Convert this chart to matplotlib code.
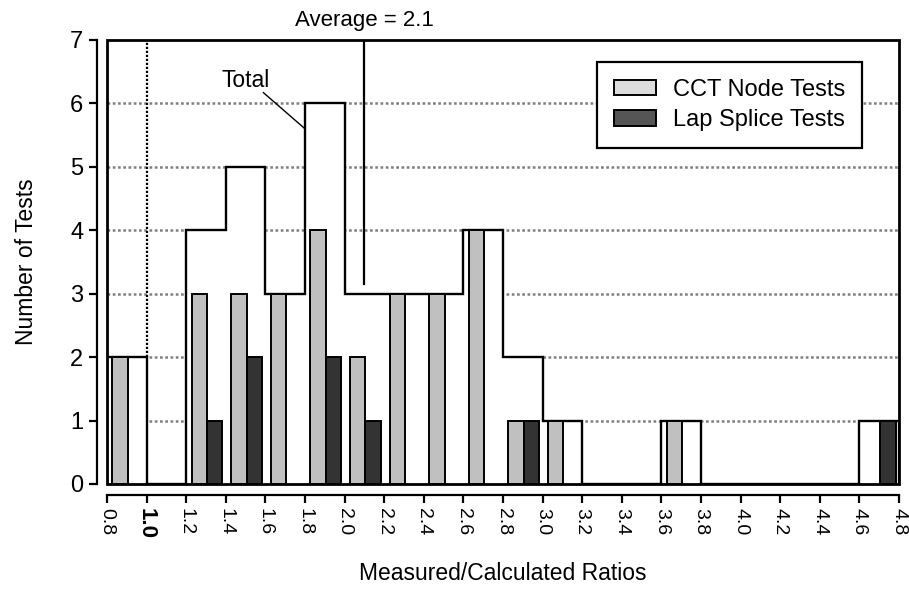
import matplotlib
matplotlib.use('Agg')
import matplotlib.pyplot as plt
from matplotlib.patches import Patch, Rectangle
import numpy as np

plt.rcParams['font.family'] = ['Liberation Sans', 'DejaVu Sans']

# bin edges (width 0.2) and counts
bin_edges = [0.8, 1.0, 1.2, 1.4, 1.6, 1.8, 2.0, 2.2, 2.4, 2.6, 2.8,
             3.0, 3.2, 3.4, 3.6, 3.8, 4.0, 4.2, 4.4, 4.6, 4.8]
total = [2, 0, 4, 5, 3, 6, 3, 3, 3, 4, 2, 1, 0, 0, 1, 0, 0, 0, 0, 1]
cct_node = [2, 0, 3, 3, 3, 4, 2, 3, 3, 4, 1, 1, 0, 0, 1, 0, 0, 0, 0, 0]
lap_splice = [0, 0, 1, 2, 0, 2, 1, 0, 0, 0, 1, 0, 0, 0, 0, 0, 0, 0, 0, 1]
average = 2.1
x_ticks = [0.8, 1.0, 1.2, 1.4, 1.6, 1.8, 2.0, 2.2, 2.4, 2.6, 2.8,
           3.0, 3.2, 3.4, 3.6, 3.8, 4.0, 4.2, 4.4, 4.6, 4.8]
y_ticks = [0, 1, 2, 3, 4, 5, 6, 7]

fig = plt.figure(figsize=(9.09, 5.90), dpi=100)
ax = fig.add_axes([107 / 909, 106 / 590, 792 / 909, 444 / 590])

# gridlines behind everything
for y in y_ticks[1:-1]:
    ax.axhline(y, color='#808080', lw=1.8, ls=(0, (1.1, 1.0)), zorder=0)

# total outline (white filled step)
ax.stairs(total, bin_edges, fill=True, facecolor='white', edgecolor='black',
          linewidth=1.7, zorder=2)

lefts = np.array(bin_edges[:-1])
cct = np.array(cct_node)
lap = np.array(lap_splice)
m1 = cct > 0
m2 = lap > 0
ax.bar(lefts[m1] + 0.027, cct[m1], width=0.078, align='edge',
       color='#c0c0c0', edgecolor='black', linewidth=1.4, zorder=3)
ax.bar(lefts[m2] + 0.105, lap[m2], width=0.078, align='edge',
       color='#333333', edgecolor='black', linewidth=1.4, zorder=3)

# reference line at 1.0
ax.plot([1.0, 1.0], [2.0, 7.0], color='black', lw=1.6, ls=(0, (1, 0.8)), zorder=4)

# average line
ax.plot([average, average], [3.15, 7.0], color='black', lw=1.6, zorder=4)
ax.text(average, 7.31, f"Average = {average}", ha='center', va='center',
        fontsize=16)

# total annotation
ax.text(1.5, 6.36, "Total", ha='center', va='center', fontsize=16.5)
ax.plot([1.59, 1.80], [6.17, 5.6], color='black', lw=1.0, zorder=4)

ax.set_xlim(0.8, 4.8)
ax.set_ylim(0, 7)

# frame around plotting area
ax.add_patch(Rectangle((0, 0), 1, 1, transform=ax.transAxes, fill=False,
                       edgecolor='black', linewidth=2.0, zorder=5, clip_on=False))

for s in ['top', 'right']:
    ax.spines[s].set_visible(False)
ax.spines['left'].set_position(('outward', 7))
ax.spines['bottom'].set_position(('outward', 8))
ax.spines['left'].set_linewidth(1.6)
ax.spines['bottom'].set_linewidth(1.6)

ax.set_yticks(y_ticks)
ax.set_yticklabels([str(v) for v in y_ticks], fontsize=17)
ax.set_xticks(x_ticks)
ax.set_xticklabels([f"{v:.1f}" for v in x_ticks], rotation=-90, fontsize=14)
for lbl in ax.get_xticklabels():
    if lbl.get_text() == "1.0":
        lbl.set_fontweight('bold')
        lbl.set_fontsize(16)
ax.tick_params(axis='both', direction='out', length=6, width=1.6, pad=4)
ax.tick_params(axis='x', pad=3)

ax.set_xlabel("Measured/Calculated Ratios", fontsize=16.5)
ax.set_ylabel("Number of Tests", fontsize=16.5)
ax.xaxis.set_label_coords(0.5, -89 / 444)
ax.xaxis.label.set_va('center')
ax.yaxis.set_label_coords(-80 / 792, 0.5)
ax.yaxis.label.set_va('center')

handles = [Patch(facecolor='#dcdcdc', edgecolor='black', linewidth=1.4, label='CCT Node Tests'),
           Patch(facecolor='#555555', edgecolor='black', linewidth=1.4, label='Lap Splice Tests')]
leg = ax.legend(handles=handles, loc='upper right', bbox_to_anchor=(0.953, 0.95),
                borderaxespad=0, fontsize=17, fancybox=False, framealpha=1,
                edgecolor='black', handlelength=1.8, handleheight=0.65,
                labelspacing=0.35, borderpad=0.7, handletextpad=0.7)
leg.get_frame().set_linewidth(1.6)
leg.set_zorder(6)

fig.savefig("out.png", dpi=100)
